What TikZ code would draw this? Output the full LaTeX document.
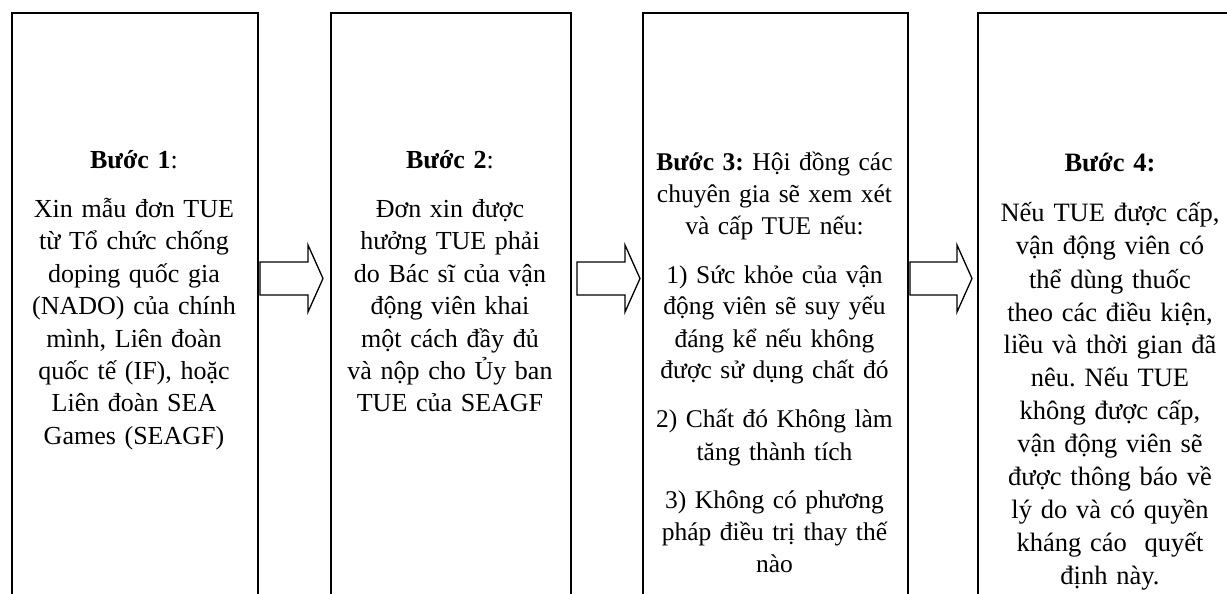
\documentclass[tikz,border=0pt]{standalone}
\usepackage{fontspec}
\setmainfont{Liberation Serif}
\frenchspacing
\begin{document}
\begin{tikzpicture}[x=1pt,y=-1pt]
\tikzset{
  stepbox/.style={draw, line width=1.6pt, rectangle, minimum width=#1, minimum height=700pt, anchor=north west, inner sep=0pt},
  steptext/.style={anchor=base, text width=#1, inner sep=0pt, execute at begin node=\centering\frenchspacing},
  blockarrow/.style={draw, line width=1.3pt, fill=white, line join=miter},
}
\useasboundingbox (0,0) rectangle (1227,594);
\clip (0,0) rectangle (1227,594);
\fill[white] (0,0) rectangle (1227,594);

% boxes
\node[stepbox=246pt] (b1) at (11,12) {};
\node[stepbox=240pt] (b2) at (330,12) {};
\node[stepbox=265pt] (b3) at (642,12) {};
\node[stepbox=266pt] (b4) at (977,12) {};

% block arrows
\draw[blockarrow] (260,262) -- (308,262) -- (308,245) -- (323,278.5) -- (308,312) -- (308,295) -- (260,295) -- cycle;
\draw[blockarrow] (577,262) -- (625,262) -- (625,245) -- (640,278.5) -- (625,312) -- (625,295) -- (577,295) -- cycle;
\draw[blockarrow] (910,262) -- (957,262) -- (957,245) -- (972,278.5) -- (957,312) -- (957,295) -- (910,295) -- cycle;

% texts
\node[steptext=240pt, font=\fontsize{26}{32.5}\selectfont] (t1) at (134,168)
  {\textbf{Bước 1}:\\[16.5pt]
   Xin mẫu đơn TUE\\ từ Tổ chức chống\\ doping quốc gia\\ (NADO) của chính\\ mình, Liên đoàn\\ quốc tế (IF), hoặc\\ Liên đoàn SEA\\ Games (SEAGF)};
\node[steptext=236pt, font=\fontsize{26}{32.5}\selectfont] (t2) at (450,168)
  {\textbf{Bước 2}:\\[16.5pt]
   Đơn xin được\\ hưởng TUE phải\\ do Bác sĩ của vận\\ động viên khai\\ một cách đầy đủ\\ và nộp cho Ủy ban\\ TUE của SEAGF};
\node[steptext=262pt, font=\fontsize{25.5}{32}\selectfont] (t3) at (774.5,170)
  {\textbf{Bước 3:} Hội đồng các\\ chuyên gia sẽ xem xét\\ và cấp TUE nếu:\\[17pt]
   1) Sức khỏe của vận\\ động viên sẽ suy yếu\\ đáng kể nếu không\\ được sử dụng chất đó\\[17pt]
   2) Chất đó Không làm\\ tăng thành tích\\[17pt]
   3) Không có phương\\ pháp điều trị thay thế\\ nào};
\node[steptext=262pt, font=\fontsize{26.5}{33}\selectfont] (t4) at (1110,171)
  {\textbf{Bước 4:}\\[18pt]
   Nếu TUE được cấp,\\ vận động viên có\\ thể dùng thuốc\\ theo các điều kiện,\\ liều và thời gian đã\\ nêu. Nếu TUE\\ không được cấp,\\ vận động viên sẽ\\ được thông báo về\\ lý do và có quyền\\ kháng cáo\ \ quyết\\ định này.};
\end{tikzpicture}
\end{document}
